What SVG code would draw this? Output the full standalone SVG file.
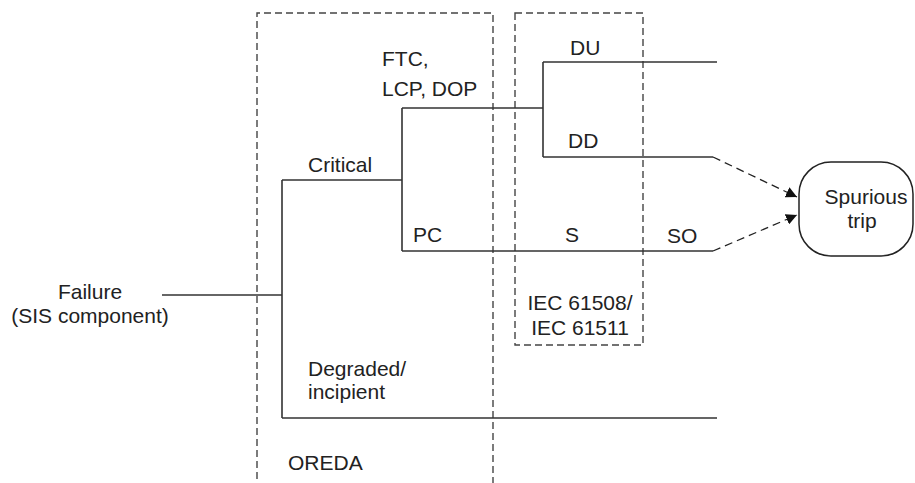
<svg xmlns="http://www.w3.org/2000/svg" width="915" height="483" viewBox="0 0 915 483">
<style>
text{font-family:"Liberation Sans",Arial,sans-serif;font-size:21px;fill:#222}
.mid{text-anchor:middle}
.frame{fill:none;stroke:#444;stroke-width:1.4;stroke-dasharray:7 4}
.ln{fill:none;stroke:#333;stroke-width:1.6}
.dash{fill:none;stroke:#222;stroke-width:1.3;stroke-dasharray:8 5}
</style>
<defs>
<marker id="ah" viewBox="0 0 10 10" refX="10" refY="5" markerWidth="11" markerHeight="11" markerUnits="userSpaceOnUse" orient="auto">
<path d="M0,0 L10,5 L0,10 z" fill="#111"/>
</marker>
</defs>
<rect width="915" height="483" fill="#fff"/>
<g id="oreda">
<path class="frame" d="M257,490 V13 H493 V490"/>
<text x="288" y="470">OREDA</text>
</g>
<g id="iec">
<rect class="frame" x="515" y="13" width="128" height="332"/>
<text class="mid" x="580" y="310">IEC 61508/</text>
<text class="mid" x="580" y="335">IEC 61511</text>
</g>
<g id="connectors">
<path class="ln" d="M162,295 H282"/>
<path class="ln" d="M282,180 V418 M282,180 H402 M282,418 H717"/>
<path class="ln" d="M402,108 V251 M402,108 H543 M402,251 H713"/>
<path class="ln" d="M543,62 V157 M543,62 H717 M543,157 H713"/>
<path class="dash" d="M713,157 L797,197" marker-end="url(#ah)"/>
<path class="dash" d="M713,251 L797,215" marker-end="url(#ah)"/>
</g>
<g id="failure">
<text class="mid" x="90" y="299">Failure</text>
<text class="mid" x="90" y="323">(SIS component)</text>
</g>
<g id="critical"><text x="308" y="172">Critical</text></g>
<g id="degraded">
<text x="308" y="376">Degraded/</text>
<text x="308" y="399">incipient</text>
</g>
<g id="ftc">
<text x="382" y="66">FTC,</text>
<text x="382" y="96">LCP, DOP</text>
</g>
<g id="pc"><text x="413" y="242">PC</text></g>
<g id="du"><text x="570" y="55">DU</text></g>
<g id="dd"><text x="568" y="148">DD</text></g>
<g id="s"><text x="565" y="242">S</text></g>
<g id="so"><text x="667" y="243">SO</text></g>
<g id="spurious">
<rect x="799" y="162" width="114" height="94" rx="32" ry="32" fill="#fff" stroke="#222" stroke-width="1.5"/>
<text class="mid" x="866" y="204">Spurious</text>
<text class="mid" x="862" y="228">trip</text>
</g>
</svg>
